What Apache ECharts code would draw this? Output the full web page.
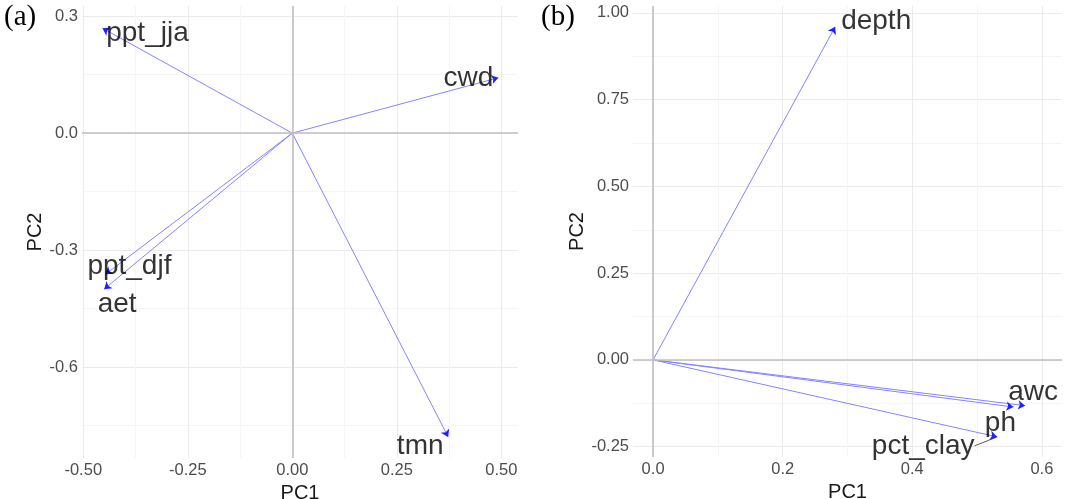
<!DOCTYPE html>
<html>
<head>
<meta charset="utf-8">
<script src="https://cdn.jsdelivr.net/npm/echarts@6/dist/echarts.min.js"></script>
<style>
html, body { margin: 0; padding: 0; background: #fff; }
#main { width: 1065px; height: 499px; }
</style>
</head>
<body>
<div id="main"></div>
<script>
// (a) climate loadings
var climNames = ['ppt_jja', 'cwd', 'ppt_djf', 'aet', 'tmn'];
var climPC1 = [-0.454, 0.493, -0.447, -0.450, 0.373];
var climPC2 = [0.269, 0.142, -0.362, -0.400, -0.779];

// (b) soil loadings
var soilNames = ['depth', 'awc', 'ph', 'pct_clay'];
var soilPC1 = [0.281, 0.574, 0.556, 0.531];
var soilPC2 = [0.960, -0.132, -0.136, -0.222];

// tick labels
var climXTicks = [-0.5, -0.25, 0, 0.25, 0.5];
var climYTicks = [-0.6, -0.3, 0, 0.3];
var soilXTicks = [0, 0.2, 0.4, 0.6];
var soilYTicks = [-0.25, 0, 0.25, 0.5, 0.75, 1];
// minor grid lines
var climXMinor = [-0.375, -0.125, 0.125, 0.375];
var climYMinor = [-0.75, -0.45, -0.15, 0.15];
var soilXMinor = [0.1, 0.3, 0.5];
var soilYMinor = [-0.125, 0.125, 0.375, 0.625, 0.875];

// label nudges in px (like ggrepel output)
var labelShift = {
    ppt_jja: [45, 5], cwd: [-30, 1], ppt_djf: [24, -8], aet: [13, 15], tmn: [-28, 9],
    depth: [41, -6], awc: [8, -13], ph: [-13, 16], pct_clay: [-74, 9]
};

var tickFont = { color: '#4d4d4d', fontSize: 16.5, fontFamily: 'Liberation Sans' };
var nameFont = { color: '#1a1a1a', fontSize: 20, fontFamily: 'Liberation Sans' };

function majorAxis(grid, min, max, ticks, dec, name, gap) {
    return {
        type: 'value', gridIndex: grid, min: min, max: max,
        name: name, nameLocation: 'middle', nameGap: gap, nameTextStyle: nameFont,
        axisLine: { show: false },
        axisTick: { show: false, customValues: ticks },
        axisLabel: {
            customValues: ticks, margin: 4,
            formatter: function (v) { return v.toFixed(dec); },
            color: tickFont.color, fontSize: tickFont.fontSize, fontFamily: tickFont.fontFamily
        },
        splitLine: { show: true, lineStyle: { color: '#ebebeb', width: 1 } }
    };
}
function minorAxis(grid, min, max, ticks) {
    return {
        type: 'value', gridIndex: grid, min: min, max: max,
        axisLine: { show: false },
        axisTick: { show: false, customValues: ticks },
        axisLabel: { show: false },
        splitLine: { show: true, lineStyle: { color: '#f5f5f5', width: 1 } }
    };
}

function panelSeries(ax, names, pc1, pc2) {
    var coords = [], pts = [];
    for (var i = 0; i < names.length; i++) {
        coords.push({ coords: [[0, 0], [pc1[i], pc2[i]]] });
        var p = { name: names[i], value: [pc1[i], pc2[i]] };
        if (names[i] == 'pct_clay') {
            p.labelLine = { show: true, lineStyle: { color: '#333', width: 0.8 } };
        }
        pts.push(p);
    }
    return [{
        type: 'scatter', xAxisIndex: ax, yAxisIndex: ax, data: [], z: 1, silent: true,
        markLine: {
            silent: true, symbol: ['none', 'none'], label: { show: false },
            lineStyle: { color: '#bfbfbf', width: 1.6, type: 'solid' },
            data: [{ xAxis: 0 }, { yAxis: 0 }]
        }
    }, {
        // shafts
        type: 'lines', coordinateSystem: 'cartesian2d', xAxisIndex: ax, yAxisIndex: ax,
        z: 3, silent: true, symbol: ['none', 'none'],
        lineStyle: { color: '#8484ff', width: 1, opacity: 1 },
        data: coords
    }, {
        // arrow heads
        type: 'lines', coordinateSystem: 'cartesian2d', xAxisIndex: ax, yAxisIndex: ax,
        z: 4, silent: true, symbol: ['none', 'arrow'], symbolSize: 7,
        lineStyle: { color: '#2020ff', width: 0, opacity: 1 },
        data: coords
    }, {
        type: 'scatter', xAxisIndex: ax, yAxisIndex: ax, z: 5, silent: true,
        symbolSize: 1, itemStyle: { color: 'rgba(0,0,0,0)' },
        label: {
            show: true, position: 'inside', formatter: '{b}',
            color: '#000', fontSize: 28, fontFamily: 'Liberation Sans'
        },
        labelLayout: function (p) {
            var s = labelShift[names[p.dataIndex]];
            return { dx: s[0], dy: s[1] };
        },
        data: pts
    }];
}

var myChart = echarts.init(document.getElementById('main'));
var option = {
    animation: false,
    title: [{
        text: '(a)', left: 4, top: 3, padding: 0,
        textStyle: { fontFamily: 'Liberation Serif', fontSize: 29, fontWeight: 'normal', color: '#000' }
    }, {
        text: '(b)', left: 541, top: 3, padding: 0,
        textStyle: { fontFamily: 'Liberation Serif', fontSize: 29, fontWeight: 'normal', color: '#000' }
    }],
    grid: [
        { left: 82, right: 547, top: 6, bottom: 41, containLabel: false, outerBoundsMode: 'none' },
        { left: 633, right: 3, top: 6, bottom: 42, containLabel: false, outerBoundsMode: 'none' }
    ],
    xAxis: [
        majorAxis(0, -0.503, 0.54, climXTicks, 2, 'PC1', 18),
        minorAxis(0, -0.503, 0.54, climXMinor),
        majorAxis(1, -0.031, 0.631, soilXTicks, 1, 'PC1', 18),
        minorAxis(1, -0.031, 0.631, soilXMinor)
    ],
    yAxis: [
        majorAxis(0, -0.833, 0.326, climYTicks, 1, 'PC2', 36),
        minorAxis(0, -0.833, 0.326, climYMinor),
        majorAxis(1, -0.28, 1.02, soilYTicks, 2, 'PC2', 45),
        minorAxis(1, -0.28, 1.02, soilYMinor)
    ],
    series: panelSeries(0, climNames, climPC1, climPC2)
        .concat(panelSeries(2, soilNames, soilPC1, soilPC2))
};
myChart.setOption(option);
</script>
</body>
</html>
